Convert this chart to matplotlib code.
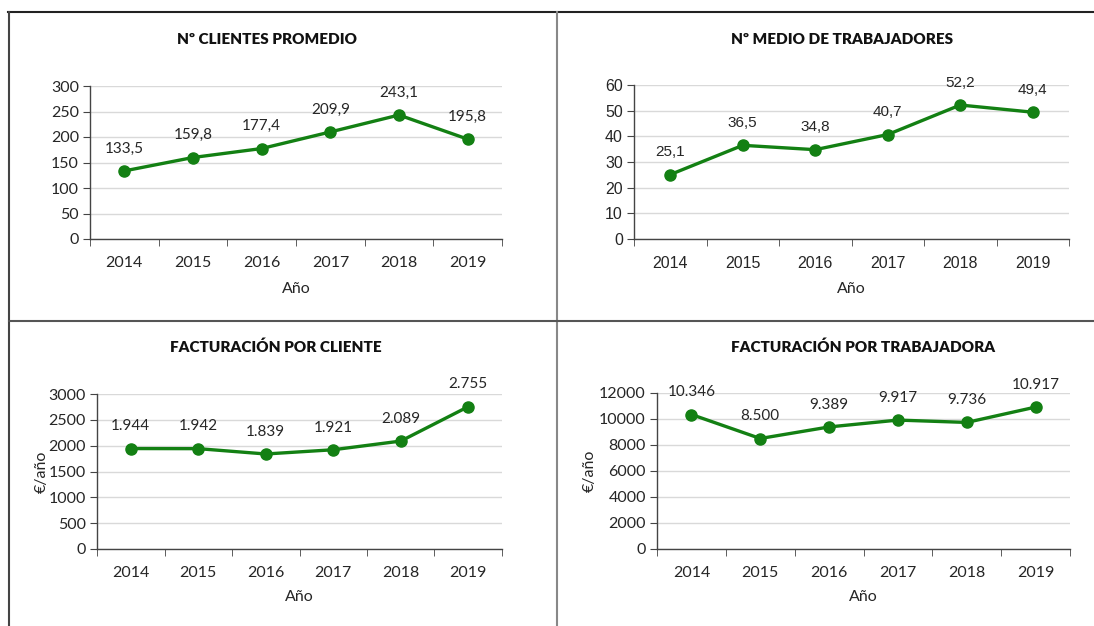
import matplotlib
matplotlib.use("Agg")
import matplotlib.pyplot as plt
from matplotlib.lines import Line2D

years = ["2014", "2015", "2016", "2017", "2018", "2019"]
clientes = [133.5, 159.8, 177.4, 209.9, 243.1, 195.8]
trabajadores = [25.1, 36.5, 34.8, 40.7, 52.2, 49.4]
fact_cliente = [1944, 1942, 1839, 1921, 2089, 2755]
fact_trabajadora = [10346, 8500, 9389, 9917, 9736, 10917]

lab_clientes = ["133,5", "159,8", "177,4", "209,9", "243,1", "195,8"]
lab_trabajadores = ["25,1", "36,5", "34,8", "40,7", "52,2", "49,4"]
lab_fact_cliente = ["1.944", "1.942", "1.839", "1.921", "2.089", "2.755"]
lab_fact_trabajadora = ["10.346", "8.500", "9.389", "9.917", "9.736", "10.917"]

W, H = 1094, 626
GREEN = "#138013"
TXT = "#262626"
CAL = ["Lato", "DejaVu Sans"]
ARI = ["Liberation Sans", "DejaVu Sans"]

fig = plt.figure(figsize=(W / 100, H / 100), dpi=100)


def px_axes(left, right, top, bottom):
    return fig.add_axes([left / W, 1 - bottom / H, (right - left) / W, (bottom - top) / H])


def panel(box, vals, labels, ymax, ystep, title, title_xy, xlab_y, ylab_x=None,
          lab_font=CAL, tick_font=CAL, tsize=11.5):
    ax = px_axes(*box)
    x = list(range(len(vals)))
    ax.plot(x, vals, color=GREEN, lw=2.4, marker="o", ms=8, zorder=3)
    for xi, v, s in zip(x, vals, labels):
        ax.annotate(s, (xi, v), xytext=(0, 16), textcoords="offset points",
                    ha="center", va="center", fontsize=tsize - 0.5, color=TXT, family=lab_font)
    ax.set_xlim(-0.5, len(vals) - 0.5)
    ax.set_ylim(0, ymax)
    ax.set_yticks(range(0, ymax + 1, ystep))
    ax.set_xticks(x)
    ax.set_xticklabels(years)
    ax.set_xticks([i - 0.5 for i in range(len(vals) + 1)], minor=True)
    ax.tick_params(axis="x", which="major", length=0, pad=12, labelsize=tsize, colors=TXT)
    ax.tick_params(axis="x", which="minor", length=5, direction="out", color="#444444")
    ax.tick_params(axis="y", length=5, direction="out", color="#444444", labelsize=tsize,
                   colors=TXT, pad=3)
    for lbl in ax.get_xticklabels() + ax.get_yticklabels():
        lbl.set_family(tick_font)
    ax.grid(axis="y", color="#d9d9d9", lw=1)
    ax.set_axisbelow(True)
    for s in ["top", "right"]:
        ax.spines[s].set_visible(False)
    for s in ["left", "bottom"]:
        ax.spines[s].set_color("#444444")
        ax.spines[s].set_linewidth(1)
    fig.text(title_xy[0] / W, 1 - title_xy[1] / H, title, ha="center", va="center",
             fontsize=11, fontweight="heavy", color="#111111", family=CAL)
    xc = (box[0] + box[1]) / 2
    fig.text(xc / W, 1 - xlab_y / H, "Año", ha="center", va="center",
             fontsize=11.5, color=TXT, family=CAL)
    if ylab_x is not None:
        yc = (box[2] + box[3]) / 2
        fig.text(ylab_x / W, 1 - yc / H, "€/año", ha="center", va="center",
                 rotation=90, fontsize=11.5, color=TXT, family=CAL)
    return ax


panel((90, 502, 86, 239), clientes, lab_clientes, 300, 50,
      "Nº CLIENTES PROMEDIO", (267, 40), 289)
panel((634, 1069, 85, 239), trabajadores, lab_trabajadores, 60, 10,
      "Nº MEDIO DE TRABAJADORES", (842, 40), 289, lab_font=ARI, tick_font=ARI, tsize=11.5)
panel((97, 502, 394, 549), fact_cliente, lab_fact_cliente, 3000, 500,
      "FACTURACIÓN POR CLIENTE", (276, 347), 597, ylab_x=42)
panel((657, 1070, 393, 549), fact_trabajadora, lab_fact_trabajadora, 12000, 2000,
      "FACTURACIÓN POR TRABAJADORA", (863, 347), 597, ylab_x=590)


# frame lines around the panels
def fline(x0, y0, x1, y1, color, lw):
    fig.add_artist(Line2D([x0 / W, x1 / W], [1 - y0 / H, 1 - y1 / H],
                          color=color, lw=lw, transform=fig.transFigure))


fline(8, 12, W, 12, "#222222", 1.5)
fline(9, 12, 9, H, "#444444", 1.5)
fline(557, 12, 557, H, "#888888", 1.5)
fline(9, 321, W, 321, "#555555", 1.5)

fig.savefig("out.png", dpi=100)
